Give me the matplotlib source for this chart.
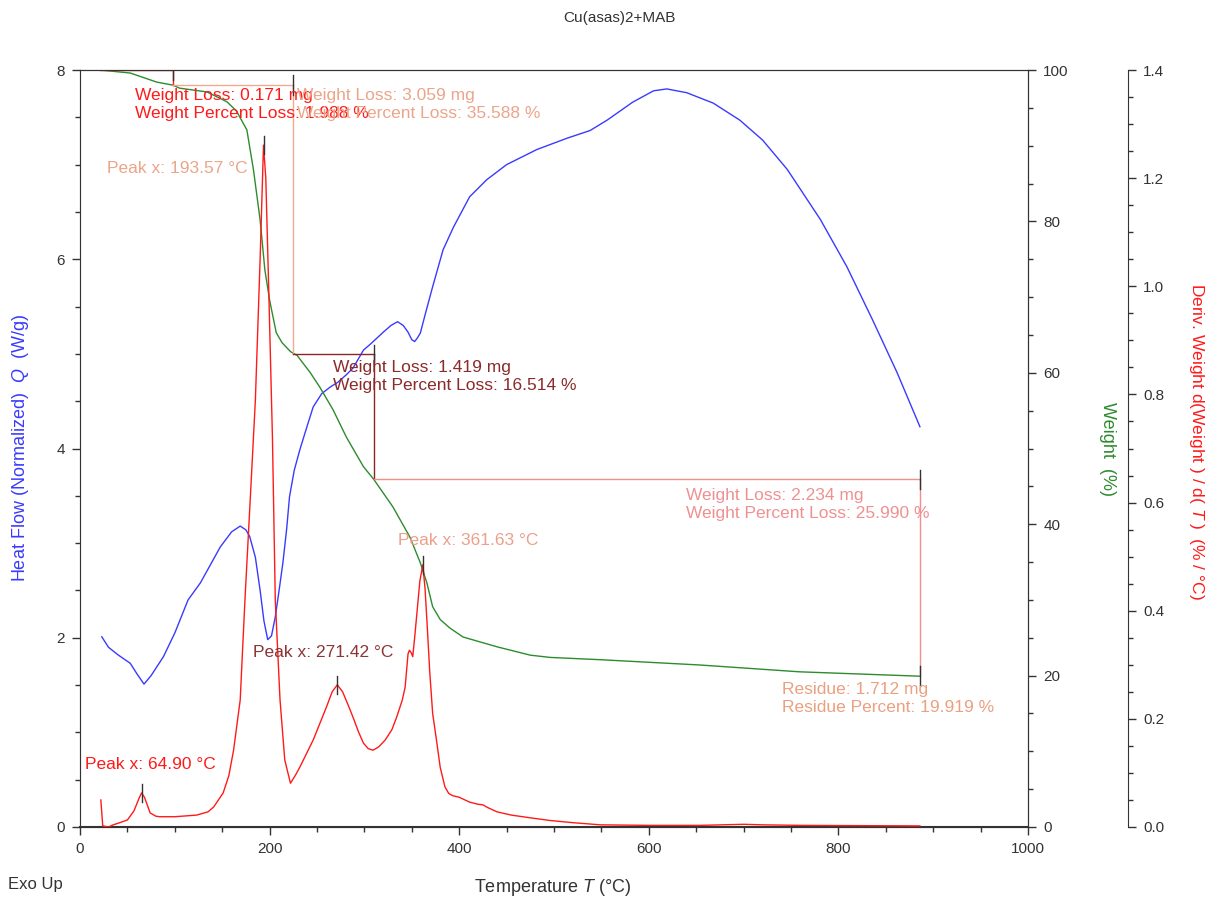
import numpy as np
import matplotlib.pyplot as plt

plt.rcParams['font.family'] = ['Liberation Sans', 'DejaVu Sans']
plt.rcParams['mathtext.fontset'] = 'custom'
plt.rcParams['mathtext.rm'] = 'Liberation Sans'
plt.rcParams['mathtext.it'] = 'Liberation Sans:italic'

# heat flow (W/g) vs temperature
hf_T = [23, 30, 40, 53, 60, 67.5, 75, 88, 100, 114, 127, 148, 160, 169, 175, 179, 185, 190, 194,
        198, 202, 206, 210, 214, 218, 221, 226, 232, 240, 246, 255, 264, 272, 281, 288, 299, 306,
        320, 328, 335, 341, 346, 350, 353, 356, 359, 365, 372, 383, 394, 411, 429, 450, 482, 514,
        538, 556, 583, 605, 619, 640, 668, 696, 720, 746, 781, 809, 836, 862, 886]
hf_Q = [2.01, 1.90, 1.82, 1.73, 1.62, 1.51, 1.60, 1.80, 2.05, 2.40, 2.58, 2.96, 3.12, 3.18, 3.14,
        3.07, 2.85, 2.50, 2.18, 1.98, 2.02, 2.22, 2.50, 2.79, 3.15, 3.49, 3.77, 3.99, 4.25, 4.44,
        4.58, 4.65, 4.70, 4.78, 4.85, 5.04, 5.10, 5.23, 5.30, 5.34, 5.30, 5.23, 5.15, 5.13, 5.17,
        5.22, 5.45, 5.71, 6.10, 6.34, 6.66, 6.84, 7.00, 7.16, 7.28, 7.36, 7.47, 7.66, 7.78, 7.80,
        7.76, 7.65, 7.47, 7.26, 6.95, 6.42, 5.92, 5.36, 4.80, 4.23]

# weight (%) vs temperature
w_T = [21, 53, 81, 98, 105, 134, 155, 165, 172, 176, 183, 190, 195, 200, 207, 213, 222, 229, 243,
       253, 267, 281, 299, 310, 330, 348, 359, 366, 372, 380, 390, 404, 440, 475, 496, 549, 654,
       759, 886]
w_pct = [100, 99.6, 98.4, 98.0, 97.6, 97.1, 95.8, 94.6, 93.0, 92.1, 86.8, 80.2, 73.6, 69.6, 65.3,
         64.0, 62.8, 62.3, 60.0, 58.1, 55.1, 51.5, 47.6, 45.9, 42.3, 38.3, 34.9, 32.2, 29.1, 27.4,
         26.3, 25.1, 23.8, 22.7, 22.4, 22.1, 21.4, 20.5, 19.92]

# derivative weight (%/°C) vs temperature
d_T = [22, 24, 30, 35, 42, 50, 57, 62, 64.9, 68, 74, 80, 84, 100, 123, 135, 141, 151, 157, 162,
       169, 174, 180, 185, 190, 193.57, 196, 199, 203, 206, 211, 216, 222, 227, 232, 246, 260, 266,
       271.42, 277, 283, 288, 294, 299, 304, 309, 315, 322, 329, 334, 340, 343, 346, 347.5, 349.5,
       351, 353, 356, 358.5, 361.63, 364, 366, 369, 372, 376, 380, 385, 389, 393, 400, 411, 420,
       425, 430, 440, 455, 475, 496, 520, 549, 600, 654, 700, 720, 760, 886]
d_val = [0.05, 0.002, 0.0, 0.004, 0.008, 0.013, 0.03, 0.052, 0.063, 0.055, 0.026, 0.02, 0.019,
         0.019, 0.022, 0.028, 0.037, 0.063, 0.095, 0.142, 0.235, 0.42, 0.62, 0.79, 1.05, 1.261,
         1.2, 1.0, 0.72, 0.42, 0.235, 0.124, 0.081, 0.095, 0.111, 0.161, 0.222, 0.25, 0.263, 0.25,
         0.225, 0.203, 0.175, 0.155, 0.145, 0.142, 0.148, 0.161, 0.18, 0.203, 0.235, 0.259, 0.32,
         0.327, 0.322, 0.315, 0.35, 0.407, 0.455, 0.485, 0.44, 0.38, 0.285, 0.21, 0.161, 0.11,
         0.074, 0.062, 0.058, 0.055, 0.046, 0.042, 0.041, 0.036, 0.028, 0.022, 0.017, 0.012, 0.008,
         0.004, 0.003, 0.003, 0.005, 0.004, 0.003, 0.002]

# step analysis
step_T = [21, 98, 225, 310, 886]
step_loss_mg = [0.171, 3.059, 1.419, 2.234]
step_loss_pct = [1.988, 35.588, 16.514, 25.990]
residue_mg = 1.712
residue_pct = 19.919
peaks_T = [64.90, 193.57, 271.42, 361.63]
peaks_d = [0.063, 1.261, 0.263, 0.485]

blue = '#3a3aff'
green = '#2e8b2e'
red = '#ff1a1a'
step_colors = [red, '#f2a98c', '#8b2525', '#f09088']
step_text_colors = [red, '#eba58a', '#8b2a2a', '#f09090']
peak_text_colors = [red, '#eba58a', '#8b3535', '#eba08a']
axc = '#333333'
ann_fs = 12.5
lab_fs = 13

fig = plt.figure(figsize=(12.08, 9), dpi=100)
ax = fig.add_axes([80 / 1208, 73 / 900, 948 / 1208, 757 / 900])
ax2 = ax.twinx()
ax3 = ax.twinx()
ax3.spines['right'].set_position(('axes', 1.1055))
for s in ['left', 'top', 'bottom']:
    ax3.spines[s].set_visible(False)

ax.plot(hf_T, hf_Q, color=blue, lw=1)
ax2.plot(w_T, w_pct, color=green, lw=1)
ax3.plot(d_T, d_val, color=red, lw=1)

ax.set_xlim(0, 1000)
ax.set_ylim(0, 8)
ax2.set_ylim(0, 100)
ax3.set_ylim(0, 1.4)

ax.set_xticks(np.arange(0, 1001, 200))
ax.set_xticks(np.arange(0, 1001, 50), minor=True)
ax.set_yticks(np.arange(0, 9, 2))
ax.set_yticks(np.arange(0, 8.01, 0.5), minor=True)
ax2.set_yticks(np.arange(0, 101, 20))
ax2.set_yticks(np.arange(0, 101, 5), minor=True)
ax3.set_yticks(np.arange(0, 1.41, 0.2))
ax3.set_yticks(np.arange(0, 1.41, 0.05), minor=True)
ax3.yaxis.set_major_formatter(plt.FormatStrFormatter('%.1f'))

for a in (ax, ax2, ax3):
    a.tick_params(which='major', direction='out', length=6, width=1, color=axc,
                  labelsize=11, labelcolor=axc, pad=5)
    a.tick_params(which='minor', direction='out', length=3.5, width=1, color=axc)
    for s in a.spines.values():
        s.set_color(axc)
ax.spines['left'].set_color('#888888')
ax.spines['bottom'].set_linewidth(1.5)

ax.set_xlabel(r'Temperature $T$ (°C)', fontsize=lab_fs, color=axc)
ax.xaxis.set_label_coords(0.499, -0.066)
ax.set_ylabel(r'Heat Flow (Normalized)  $Q$  (W/g)', fontsize=lab_fs, color=blue, va='center')
ax.yaxis.set_label_coords(-0.063, 0.5)
ax2.set_ylabel('Weight  (%)', fontsize=lab_fs, color=green, rotation=270, va='center')
ax2.yaxis.set_label_coords(1.084, 0.5)
ax3.set_ylabel(r'Deriv. Weight d(Weight ) / d( $T$ )  (% / °C)', fontsize=12.5, color=red,
               rotation=270, va='center')
ax3.yaxis.set_label_coords(1.178, 0.51)

fig.text(0.513, 0.98, 'Cu(asas)2+MAB', ha='center', va='center', fontsize=11, color=axc)
fig.text(8 / 1208, 1 - 885 / 900, 'Exo Up', ha='left', va='center', fontsize=12, color=axc)

# step lines on weight axis
levels = [100.0]
for p in step_loss_pct:
    levels.append(levels[-1] - p)
for i in range(4):
    ax2.plot([step_T[i], step_T[i + 1]], [levels[i], levels[i]], color=step_colors[i], lw=1)
    ax2.plot([step_T[i + 1], step_T[i + 1]], [levels[i], levels[i + 1]], color=step_colors[i], lw=1)
    ax2.plot([step_T[i + 1]] * 2, [levels[i] - 1.3, levels[i] + 1.3], color=axc, lw=1)
ax2.plot([step_T[-1]] * 2, [levels[-1] - 1.3, levels[-1] + 1.3], color=axc, lw=1)

# peak markers
for t, d in zip(peaks_T, peaks_d):
    ax3.plot([t, t], [d - 0.017, d + 0.017], color=axc, lw=1)

# annotations (positions in heat-flow data coords)
tr = ax.transData
step_text_pos = [(58, 7.64), (229, 7.64), (267, 4.76), (639, 3.41)]
for (x, y), mg, pct, c in zip(step_text_pos, step_loss_mg, step_loss_pct, step_text_colors):
    ax3.text(x, y, 'Weight Loss: %.3f mg\nWeight Percent Loss: %.3f %%' % (mg, pct),
             transform=tr, color=c, fontsize=ann_fs, va='center', ha='left', linespacing=1.25)
ax3.text(740.5, 1.36, 'Residue: %.3f mg\nResidue Percent: %.3f %%' % (residue_mg, residue_pct),
         transform=tr, color='#eba080', fontsize=ann_fs, va='center', ha='left', linespacing=1.25)

peak_text_pos = [(5, 0.66), (28.5, 6.96), (182.5, 1.84), (335, 3.03)]
for (x, y), t, c in zip(peak_text_pos, peaks_T, peak_text_colors):
    ax3.text(x, y, 'Peak x: %.2f °C' % t, transform=tr, color=c, fontsize=ann_fs,
             va='center', ha='left')

fig.savefig('out.png', dpi=100)
